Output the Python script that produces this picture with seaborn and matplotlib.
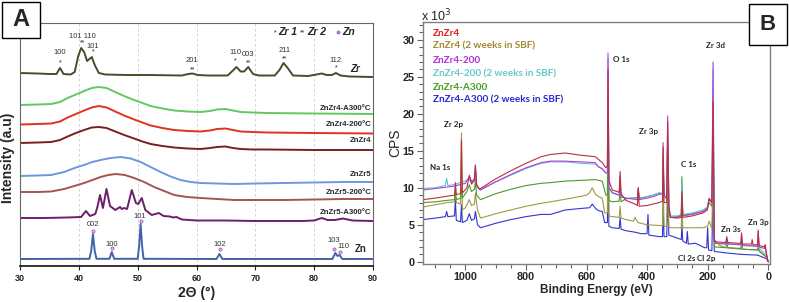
import numpy as np
import pandas as pd
import matplotlib
matplotlib.use("Agg")
import matplotlib.pyplot as plt
from matplotlib.patches import Rectangle
from matplotlib.ticker import MultipleLocator
import seaborn as sns

sns.set_style("white")
plt.rcParams['font.family'] = ['Liberation Sans', 'DejaVu Sans']

# ---------------- Panel A : XRD (2theta, intensity a.u.) ----------------
zr_x = [30, 33, 35, 36.2, 36.8, 37.4, 38.6, 39.3, 39.9, 40.4, 40.9, 41.4, 41.8, 42.2, 42.7, 43.4, 44.5, 48, 52, 57.5,
        58.6, 59.3, 60.2, 62, 65.3, 66.1, 66.8, 67.5, 68.1, 68.8, 69.6, 70.6, 73.3, 74.1, 74.8, 75.5, 76.4, 79, 80.4, 81.3,
        82.1, 83.0, 83.7, 84.5, 86, 90]
zr_y = [193, 192.5, 192, 192, 198, 192, 191.5, 194, 210, 218, 214, 205, 207, 209, 201, 193, 191.5, 191, 191, 190.5,
        192, 192.5, 191, 190.5, 190.5, 195, 199, 194.5, 194.5, 199, 192, 190.5, 190.5, 196, 203, 198, 190.5, 190, 191.5, 192.5,
        191, 191, 193, 190.5, 189.5, 189]

hump4_x = [30, 33, 35.3, 36.8, 38.1, 39.5, 40.9, 42.2, 43.4, 44.7, 46.0, 47.7, 49.4, 50.8, 52.2, 54.2, 56.2, 58.5, 60.7, 62.3,
           63.5, 64.9, 66.2, 67.5, 69.5, 72.0, 80, 90]
a300_y = [161, 161.5, 162, 164, 168, 171.5, 175, 178, 179, 178, 174.5, 170, 166, 163, 160, 157.5, 155.5, 154.5, 154, 155,
          156.5, 157, 155.5, 154, 153.5, 153, 152.5, 152]
t200_y = [141.5, 142, 142.5, 144.5, 148.5, 152, 155.5, 158.5, 160, 158.5, 155, 150.5, 146.5, 143.5, 140.5, 138, 136, 135, 134.5, 135.5,
          137, 137.5, 136, 134.5, 134, 133.5, 133, 132.5]
zz4_y = [123, 123.5, 124, 126, 129.5, 133, 136, 138.5, 139, 138, 135, 131, 127.5, 124.5, 122, 120, 118.5, 117.5, 117, 118,
         119, 119.5, 118, 117, 116.5, 116.5, 116, 116]

zz5_x = [30, 33, 35.3, 37.5, 39.5, 40.9, 42.3, 43.7, 45.4, 47.1, 48.8, 50.5, 52.2, 53.9, 55.6, 57.3, 59, 60.7, 63.5, 66.4,
         70, 74.9, 80, 85, 90]
zz5_y = [90, 90.5, 91, 94, 98.5, 101, 104, 106, 108, 109, 107.5, 104, 99, 94, 89.5, 86, 84, 83, 82.5, 82,
         82.5, 83, 83.5, 84, 84]
zz5_200_x = [30, 33, 35.3, 37.5, 39.5, 40.9, 42.3, 43.7, 45, 46.3, 47.8, 49.4, 51.1, 52.8, 54.5, 56.2, 58.4, 60.7, 63.5, 66.4,
             70, 74.9, 80, 85, 90]
zz5_200_y = [74, 74, 74.5, 77, 80.5, 83, 86, 89, 91, 92, 91, 88, 84, 79, 75, 71, 69, 68, 67, 66,
             66, 66, 66.5, 67, 67]
zz5_300_x = [30, 34, 38, 40.4, 41.2, 41.9, 42.8, 43.2, 43.6, 44.1, 44.7, 45.3, 46.2, 47.0, 47.3, 47.7, 48.2, 49.0, 49.7, 50.1,
             50.7, 51.3, 52.4, 53.6, 54.4, 55.5, 56.0, 56.6, 57.5, 60, 65, 70, 75, 78, 80, 81.3, 82.3, 83.5, 84.9, 86.5, 90]
zz5_300_y = [48, 48, 48.5, 49, 55, 50, 52, 60, 71, 58, 77, 60, 56, 59, 57, 58, 57, 76, 63, 62,
             68, 56, 51, 53, 50, 49.5, 48.5, 49, 46.5, 45.5, 45.5, 45, 45, 45, 45.5, 48, 46, 46, 47.5, 45.5, 45]
zn_x = [30, 41.8, 42.1, 42.4, 42.7, 43.0, 45.2, 45.6, 46.0, 50.0, 50.25, 50.5, 50.75, 51.0, 63.4, 63.9, 64.4, 83.1, 83.6, 83.95,
        84.3, 84.8, 90]
zn_y = [7, 7.2, 15, 32, 15, 7.2, 7.2, 14, 7.2, 7.2, 20, 42, 20, 7.2, 7, 12, 7, 7, 13, 10,
        11, 7, 7]

xrd_names = ["Zr", "ZnZr4-A300°C", "ZnZr4-200°C", "ZnZr4", "ZnZr5", "ZnZr5-200°C", "ZnZr5-A300°C", "Zn"]
xrd_label_y = [197, 158, 141, 125, 92, 73, 54, 17]

zr_hkl = ["100", "101 110", "101", "201", "110", "003", "211", "112"]
zr_hkl_x = [36.8, 40.6, 42.4, 59.3, 66.6, 68.8, 74.9, 83.7]
zr_hkl_y = [214, 229, 220, 205, 213, 212, 216, 205]
zr_mark = ["*", "**", "*", "**", "*", "**", "**", "*"]
zr_mark_y = [203, 223, 214, 196, 205, 203, 207, 198]

zn_hkl = ["002", "100", "101", "102", "103", "110"]
zn_hkl_x = [42.4, 45.6, 50.3, 64.0, 83.3, 84.9]
zn_hkl_y = [41, 22, 49, 22, 26, 20]
zn_mark_x = [42.4, 45.6, 50.5, 64.0, 83.3, 84.4]
zn_mark_y = [35, 18, 45, 17, 17, 14]

# ---------------- Panel B : XPS survey (binding energy eV, CPS x1e3) ----------------
xps_zz4 = [(1140, 8.4), (1100, 8.6), (1070, 8.8), (1036, 9.0), (1033, 10.7), (1030, 9.1), (1016, 9.2), (1013, 16.5),
           (1010, 9.3), (995, 10.0), (987, 11.7), (980, 10.5), (970, 11.0), (967, 13.0), (963, 10.5), (955, 9.8), (950, 9.9),
           (900, 11.2), (850, 12.3), (800, 13.3), (750, 14.2), (719, 14.5), (670, 14.7), (620, 14.4), (571, 14.2),
           (548, 13.4), (536, 12.7), (531, 13.0), (529, 26.0), (526, 11.0), (515, 9.7), (492, 9.4), (489, 12.2),
           (486, 9.2), (470, 8.3), (440, 7.8), (432, 7.6), (429, 10.0), (426, 7.5), (400, 7.6), (380, 7.8), (360, 8.0),
           (349, 8.2), (347, 15.5), (344, 8.0), (335, 8.0), (332, 19.0), (328, 7.4), (323, 6.0), (300, 5.9), (287, 6.0),
           (285, 9.5), (282, 6.0), (250, 6.2), (215, 6.6), (201, 7.0), (195, 8.5), (186, 8.0), (182, 21.6), (178, 3.0),
           (175, 2.7), (140, 2.6), (137, 3.4), (133, 2.6), (100, 2.5), (90, 2.5), (88, 3.9), (85, 2.4), (55, 2.4),
           (53, 3.0), (50, 2.3), (35, 2.3), (33, 4.1), (30, 2.2), (12, 2.0), (10, 2.3), (7, 1.5), (2, 0.2), (0, 0.0)]
xps_zz4_sbf = [(1140, 7.4), (1100, 7.7), (1060, 8.0), (1036, 8.1), (1033, 9.5), (1030, 8.0), (1016, 7.8), (1013, 17.4),
               (1010, 7.0), (1000, 7.3), (987, 8.4), (980, 7.6), (970, 7.8), (967, 9.3), (960, 7.0), (950, 5.9),
               (900, 6.5), (850, 7.0), (800, 7.5), (750, 7.9), (719, 8.1), (650, 8.6), (600, 9.0), (590, 9.3),
               (581, 10.0), (570, 9.1), (560, 8.8), (548, 8.6), (540, 6.6), (531, 6.6), (529, 18.0), (526, 6.2),
               (515, 6.1), (492, 6.0), (489, 7.5), (486, 5.9), (470, 5.7), (445, 5.5), (440, 6.0), (430, 5.3),
               (400, 5.0), (356, 4.9), (349, 4.9), (347, 12.0), (344, 4.8), (335, 4.8), (332, 14.0), (328, 4.6),
               (300, 4.6), (287, 4.6), (285, 7.5), (282, 4.6), (250, 4.6), (215, 4.6), (200, 4.8), (195, 5.5),
               (186, 4.5), (182, 12.0), (178, 3.0), (160, 2.2), (140, 1.9), (90, 1.7), (35, 1.6), (5, 0.6), (0, 0.0)]
xps_200 = [(1140, 9.7), (1100, 9.9), (1060, 10.1), (1040, 10.2), (1000, 10.6), (987, 11.5), (978, 10.8), (970, 11.3),
           (967, 13.1), (963, 10.3), (950, 9.7), (900, 10.8), (850, 11.8), (800, 12.7), (750, 13.4), (719, 13.6),
           (670, 13.6), (620, 13.5), (571, 13.4), (560, 12.8), (548, 12.6), (536, 12.0), (531, 12.0), (529, 28.2),
           (526, 10.0), (515, 9.3), (492, 9.0), (489, 11.5), (486, 8.8), (470, 8.6), (432, 8.4), (429, 10.0),
           (426, 8.4), (400, 8.6), (380, 8.8), (360, 9.1), (349, 9.2), (347, 16.1), (344, 9.0), (335, 8.5),
           (332, 19.7), (328, 7.4), (323, 6.0), (300, 6.0), (287, 6.2), (285, 9.0), (282, 6.2), (250, 6.4),
           (215, 6.8), (201, 7.2), (195, 8.6), (186, 8.0), (182, 27.0), (178, 2.8), (175, 2.5), (140, 2.4),
           (137, 3.0), (133, 2.4), (90, 2.3), (88, 3.5), (85, 2.2), (35, 2.1), (33, 4.3), (30, 2.0), (12, 1.8),
           (10, 2.0), (5, 0.8), (0, 0.0)]
xps_200_sbf = [(1140, 9.9), (1100, 10.0), (1066, 10.3), (1062, 11.3), (1058, 10.3), (1040, 10.4), (1000, 10.9),
               (990, 11.2), (980, 10.7), (970, 11.0), (967, 12.5), (963, 10.2), (950, 9.8), (900, 10.8), (850, 11.7),
               (800, 12.6), (750, 13.3), (719, 13.5), (670, 13.5), (620, 13.3), (571, 13.2), (548, 12.5), (536, 12.0),
               (531, 12.0), (529, 27.5), (526, 10.0), (515, 9.4), (492, 9.0), (489, 11.0), (486, 8.8), (470, 8.6),
               (432, 8.6), (429, 9.8), (426, 8.5), (400, 8.8), (380, 9.0), (360, 9.3), (349, 9.2), (347, 14.0),
               (344, 9.0), (335, 8.6), (332, 17.0), (328, 7.4), (323, 6.2), (300, 6.2), (287, 6.4), (285, 10.5),
               (282, 6.4), (250, 6.6), (215, 7.0), (201, 7.4), (195, 8.4), (186, 8.0), (182, 26.0), (178, 2.8),
               (175, 2.5), (140, 2.4), (90, 2.3), (35, 2.1), (5, 0.8), (0, 0.0)]
xps_300 = [(1140, 8.0), (1100, 8.1), (1060, 8.3), (1036, 8.4), (1033, 9.5), (1030, 8.4), (1016, 8.6), (1013, 10.0),
           (1010, 8.6), (995, 9.5), (987, 10.4), (980, 9.5), (970, 9.8), (967, 11.0), (963, 9.0), (950, 8.4),
           (900, 9.2), (850, 9.8), (800, 10.3), (750, 10.6), (719, 10.7), (670, 10.9), (620, 11.0), (571, 11.1),
           (548, 10.9), (536, 9.0), (531, 9.0), (529, 22.0), (526, 8.3), (515, 8.1), (492, 8.2), (489, 10.0),
           (486, 8.1), (470, 8.5), (432, 8.7), (429, 9.8), (426, 8.6), (400, 8.8), (380, 9.0), (360, 9.3),
           (349, 9.2), (347, 13.0), (344, 9.0), (335, 8.5), (332, 16.0), (328, 7.2), (323, 6.0), (300, 6.1),
           (287, 6.3), (285, 11.5), (282, 6.3), (250, 6.5), (215, 6.8), (201, 7.3), (195, 8.0), (186, 7.5),
           (182, 18.5), (178, 2.2), (175, 2.0), (140, 1.9), (137, 2.6), (133, 1.9), (90, 1.8), (88, 2.8),
           (85, 1.7), (35, 1.6), (33, 2.6), (30, 1.5), (5, 0.6), (0, 0.0)]
xps_300_sbf = [(1140, 5.7), (1100, 5.9), (1066, 6.1), (1062, 6.8), (1058, 6.1), (1036, 6.2), (1033, 8.4), (1030, 5.6),
               (1016, 5.4), (1013, 7.7), (1010, 5.3), (995, 5.6), (987, 6.5), (980, 5.6), (970, 5.8), (967, 6.8),
               (960, 5.0), (950, 4.6), (900, 5.2), (850, 5.7), (800, 6.1), (750, 6.4), (719, 6.4), (670, 7.0),
               (620, 7.2), (590, 7.3), (581, 7.8), (570, 7.2), (560, 6.9), (548, 6.8), (540, 5.3), (531, 5.3),
               (529, 15.0), (526, 4.8), (515, 4.6), (492, 4.5), (489, 6.0), (486, 4.4), (470, 4.2), (440, 4.0),
               (420, 3.8), (400, 3.8), (397, 6.4), (394, 3.6), (360, 3.4), (349, 3.4), (347, 8.0), (344, 3.4),
               (335, 3.4), (332, 9.0), (328, 3.6), (300, 3.2), (287, 3.0), (285, 5.0), (282, 2.8), (270, 2.5),
               (267, 4.1), (264, 2.4), (240, 2.5), (210, 1.9), (203, 1.9), (200, 4.6), (197, 1.6), (186, 1.5),
               (182, 10.0), (178, 1.4), (140, 1.2), (90, 1.0), (35, 0.9), (5, 0.4), (0, 0.0)]

xps_legend = ["ZnZr4", "ZnZr4 (2 weeks in SBF)", "ZnZr4-200", "ZnZr4-200 (2 weeks in SBF)", "ZnZr4-A300",
              "ZnZr4-A300 (2 weeks in SBF)"]
xps_peak_names = ["O 1s", "Zr 3d", "Zr 2p", "Zr 3p", "Na 1s", "C 1s", "Zn 3s", "Zn 3p", "Cl 2s", "Cl 2p"]
xps_peak_be = [512, 175, 1040, 396, 1082, 264, 125, 33, 270, 205]
xps_peak_cps = [27.4, 29.2, 18.6, 17.6, 12.7, 13.1, 4.3, 5.3, 0.5, 0.5]

# ---------------- figure ----------------
W, H = 789, 302
fig = plt.figure(figsize=(W / 100, H / 100), dpi=100)
axA = fig.add_axes([20 / W, 36 / H, 353 / W, 243 / H])
axB = fig.add_axes([423 / W, 38 / H, 347 / W, 242 / H])

# Panel A
xrd_series = [(zr_x, zr_y, '#4b4b2b'), (hump4_x, a300_y, '#62c862'), (hump4_x, t200_y, '#e0321e'),
              (hump4_x, zz4_y, '#7a1f1f'), (zz5_x, zz5_y, '#7096dc'), (zz5_200_x, zz5_200_y, '#a5554f'),
              (zz5_300_x, zz5_300_y, '#6b1f6b'), (zn_x, zn_y, '#4363a8')]
for gx in [40, 50, 60, 70, 80]:
    axA.axvline(gx, color='#cccccc', lw=0.6, ls=(0, (3, 3)), zorder=0)
for (xs, ys, col), name, ly in zip(xrd_series, xrd_names, xrd_label_y):
    df = pd.DataFrame({"x": xs, "y": ys})
    sns.lineplot(data=df, x="x", y="y", ax=axA, color=col, lw=1.4, estimator=None, sort=False)
    if name in ("Zr", "Zn"):
        axA.text(87.0 if name == "Zr" else 87.9, ly, name, fontsize=7, fontweight='bold',
                 style='italic' if name == "Zr" else 'normal', ha='center', va='center')
    else:
        axA.text(89.7, ly, name, fontsize=5.6, fontweight='bold', ha='right', va='center')

for t, x, y, m, my in zip(zr_hkl, zr_hkl_x, zr_hkl_y, zr_mark, zr_mark_y):
    axA.text(x, y, t, fontsize=5.5, ha='center', va='center', color='#333333')
    axA.text(x, my, m, fontsize=5, ha='center', va='center', color='#222222')
for t, x, y, mx, my in zip(zn_hkl, zn_hkl_x, zn_hkl_y, zn_mark_x, zn_mark_y):
    axA.text(x, y, t, fontsize=5.5, ha='center', va='center', color='#333333')
    axA.plot([mx], [my], marker='o', ms=2.2, mfc='#e0c0ee', mec='#9a5ab0', mew=0.6, ls='none')

# legend A
axA.text(73.4, 233, "*", fontsize=5, ha='center', va='center')
axA.text(73.9, 234, "Zr 1", fontsize=7.5, fontweight='bold', style='italic', ha='left', va='center')
axA.text(78.1, 233, "**", fontsize=5, ha='center', va='center')
axA.text(78.8, 234, "Zr 2", fontsize=7.5, fontweight='bold', style='italic', ha='left', va='center')
axA.plot([84.1], [234], marker='o', ms=1.8, color='#b070c8', ls='none')
axA.text(84.7, 234, "Zn", fontsize=7.5, fontweight='bold', style='italic', ha='left', va='center')

axA.set_xlim(30, 90)
axA.set_ylim(0, 243)
axA.set_yticks([])
axA.set_xticks([30, 40, 50, 60, 70, 80, 90])
axA.tick_params(axis='x', direction='out', length=3, width=0.8, labelsize=6.5, pad=3, bottom=True, colors='#222222')
for lab in axA.get_xticklabels():
    lab.set_fontweight('bold')
axA.set_xlabel("2Θ (°)", fontsize=10, fontweight='bold', labelpad=2)
axA.set_ylabel("")
for s in ['top', 'right', 'left']:
    axA.spines[s].set_color('#666666')
    axA.spines[s].set_linewidth(0.8)
axA.spines['bottom'].set_color('#111111')
axA.spines['bottom'].set_linewidth(1.2)
fig.text(8 / W, 1 - 158 / H, "Intensity (a.u)", rotation=90, fontsize=10, fontweight='bold', ha='center', va='center')

# Panel B
xps_series = [(xps_300_sbf, '#3434d0'), (xps_zz4_sbf, '#9c9c42'), (xps_300, '#4c9a30'), (xps_200_sbf, '#5cc8c8'),
              (xps_200, '#b43ce0'), (xps_zz4, '#b8303a')]
for pts, col in xps_series:
    be, cps = zip(*pts)
    df = pd.DataFrame({"be": be, "cps": cps})
    sns.lineplot(data=df, x="be", y="cps", ax=axB, color=col, lw=0.8, estimator=None, sort=False)

leg_cols = ['#e02020', '#a08a30', '#b030e0', '#68c8c8', '#48a020', '#2a2ad0']
leg_y = [30.9, 29.1, 27.2, 25.4, 23.5, 21.8]
for t, c, y in zip(xps_legend, leg_cols, leg_y):
    axB.text(1106, y, t, color=c, fontsize=7.2, fontweight='bold', ha='left', va='center', family=['Lato', 'DejaVu Sans'])
for t, x, y in zip(xps_peak_names, xps_peak_be, xps_peak_cps):
    axB.text(x, y, t, fontsize=5.8, fontweight='bold', ha='left' if t == "O 1s" else 'center', va='center',
             family=['Lato', 'DejaVu Sans'])

axB.set_xlim(1140, -6)
axB.set_ylim(-0.3, 32.4)
axB.set_xticks([1000, 800, 600, 400, 200, 0])
axB.xaxis.set_minor_locator(MultipleLocator(50))
axB.set_yticks([0, 5, 10, 15, 20, 25, 30])
axB.yaxis.set_minor_locator(MultipleLocator(1))
axB.tick_params(axis='both', which='both', direction='out', color='#666666', width=0.8, labelsize=7.8, bottom=True, left=True)
axB.tick_params(axis='both', which='major', length=4, pad=2)
axB.tick_params(axis='both', which='minor', length=3)
for lab in axB.get_xticklabels() + axB.get_yticklabels():
    lab.set_fontweight('bold')
axB.set_xlabel("Binding Energy (eV)", fontsize=8.5, fontweight='bold', labelpad=1)
axB.set_ylabel("")
for s in axB.spines.values():
    s.set_color('#808080')
    s.set_linewidth(1.0)
fig.text(395 / W, 1 - 143 / H, "CPS", rotation=90, fontsize=10, ha='center', va='center')
fig.text(421 / W, 1 - 16 / H, "x 10$^3$", fontsize=9, ha='left', va='center')

# panel letters
fig.add_artist(Rectangle((2 / W, 1 - 38 / H), 38 / W, 36 / H, transform=fig.transFigure, fc='white', ec='black',
                         lw=1.0, zorder=10))
fig.text(21 / W, 1 - 20 / H, "A", fontsize=17, fontweight='bold', ha='center', va='center', zorder=11)
fig.add_artist(Rectangle((749 / W, 1 - 45 / H), 38 / W, 41 / H, transform=fig.transFigure, fc='white', ec='black',
                         lw=1.0, zorder=10))
fig.text(768 / W, 1 - 24 / H, "B", fontsize=16, fontweight='bold', ha='center', va='center', zorder=11)

fig.savefig("out.png", dpi=100)
